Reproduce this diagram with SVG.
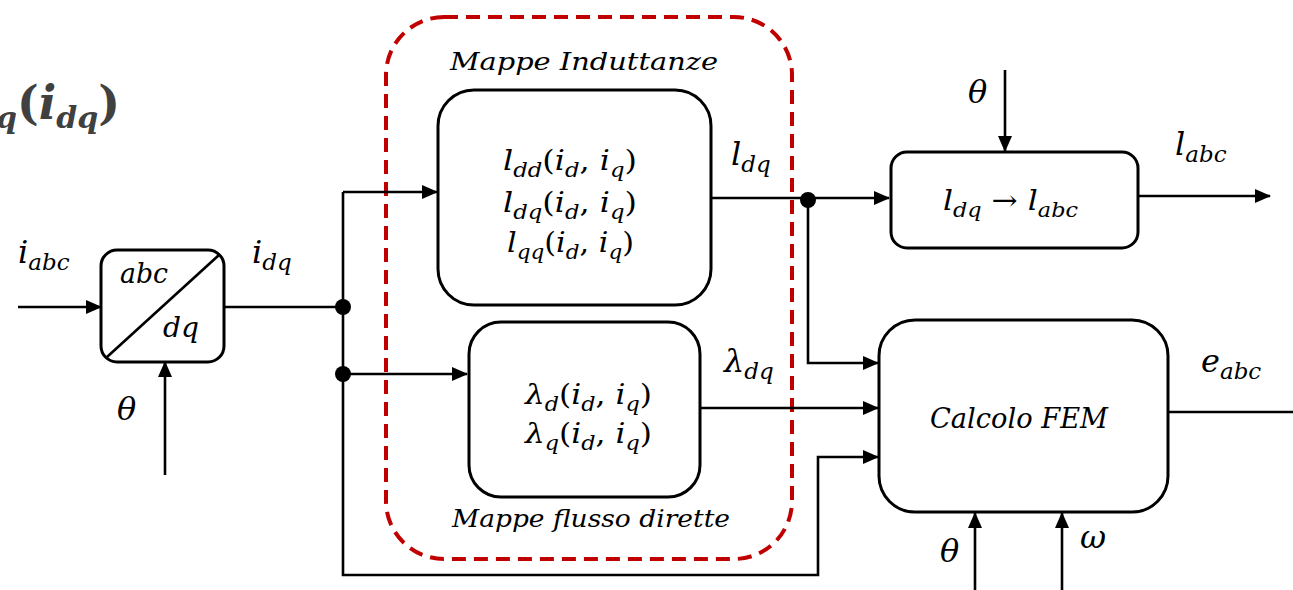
<svg xmlns="http://www.w3.org/2000/svg" width="1293" height="590" viewBox="0 0 1293 590">
<style>
.box{fill:#fff;stroke:#000;stroke-width:3}
.ln{fill:none;stroke:#000;stroke-width:2.6}
.m{font-family:"DejaVu Serif","Liberation Serif",serif;font-style:italic;font-size:28px;fill:#000}
.s{font-size:20px}
.lb{font-size:32px}
.lb .s{font-size:23px}
.t{font-family:"DejaVu Serif","Liberation Serif",serif;font-style:italic;font-size:24px;fill:#000}
.up{font-style:normal}
</style>
<defs>
<marker id="ar" markerUnits="userSpaceOnUse" markerWidth="16" markerHeight="14" refX="15" refY="7" orient="auto">
<path d="M0,0 L16,7 L0,14 z" fill="#000"/>
</marker>
</defs>
<rect width="1293" height="590" fill="#fff"/>

<g id="title">
<text x="-4" y="119" font-family="DejaVu Serif,serif" font-weight="bold" font-size="46" fill="#404040"><tspan font-style="italic" font-size="30" dy="9">q</tspan><tspan dy="-9">(</tspan><tspan font-style="italic">i</tspan><tspan font-style="italic" font-size="30" dy="9">dq</tspan><tspan dy="-9">)</tspan></text>
</g>

<g id="group-box">
<rect x="386" y="17" width="406" height="542" rx="58" ry="58" fill="none" stroke="#c00000" stroke-width="4" stroke-dasharray="14,8"/>
<text class="t" x="584" y="70" text-anchor="middle" textLength="268" lengthAdjust="spacingAndGlyphs">Mappe  Induttanze</text>
<text class="t" x="591" y="527" text-anchor="middle" textLength="278" lengthAdjust="spacingAndGlyphs">Mappe flusso dirette</text>
</g>

<g id="connectors">
<path class="ln" d="M18,307 H101" marker-end="url(#ar)"/>
<path class="ln" d="M165,475 V362" marker-end="url(#ar)"/>
<path class="ln" d="M224,307 H343"/>
<path class="ln" d="M343,192 V575 H818 V457 H878" marker-end="url(#ar)"/>
<path class="ln" d="M343,192 H437" marker-end="url(#ar)"/>
<path class="ln" d="M343,374 H467" marker-end="url(#ar)"/>
<path class="ln" d="M711,198 H889" marker-end="url(#ar)"/>
<path class="ln" d="M808,200 V363 H878" marker-end="url(#ar)"/>
<path class="ln" d="M700,408 H878" marker-end="url(#ar)"/>
<path class="ln" d="M1005,70 V151" marker-end="url(#ar)"/>
<path class="ln" d="M1138,196 H1270" marker-end="url(#ar)"/>
<path class="ln" d="M1168,412 H1293"/>
<path class="ln" d="M975,590 V513" marker-end="url(#ar)"/>
<path class="ln" d="M1062,590 V513" marker-end="url(#ar)"/>
<circle cx="343" cy="307" r="8" fill="#000"/>
<circle cx="343" cy="374" r="8" fill="#000"/>
<circle cx="808" cy="200" r="8" fill="#000"/>
<text class="m lb" x="18" y="263">i<tspan class="s" dy="7">abc</tspan></text>
<text class="m lb" x="252" y="263">i<tspan class="s" dy="7">dq</tspan></text>
<text class="m lb" x="117" y="420">θ</text>
<text class="m lb" x="731" y="165">l<tspan class="s" dy="7">dq</tspan></text>
<text class="m lb" x="724" y="372">λ<tspan class="s" dy="7">dq</tspan></text>
<text class="m lb" x="968" y="103">θ</text>
<text class="m lb" x="1175" y="155">l<tspan class="s" dy="7">abc</tspan></text>
<text class="m lb" x="1201" y="372">e<tspan class="s" dy="7">abc</tspan></text>
<text class="m lb" x="940" y="562">θ</text>
<text class="m lb" x="1080" y="548">ω</text>
</g>

<g id="abc-dq">
<rect class="box" x="101" y="250" width="123" height="112" rx="16" ry="16"/>
<path class="ln" d="M107,357 L219,255"/>
<text class="m" x="120" y="283" textLength="48" lengthAdjust="spacingAndGlyphs">abc</text>
<text class="m" x="163" y="337" textLength="36" lengthAdjust="spacingAndGlyphs">dq</text>
</g>

<g id="mappe-induttanze">
<rect class="box" x="438" y="90" width="273" height="215" rx="36" ry="36"/>
<text class="m" x="503" y="170" textLength="134" lengthAdjust="spacingAndGlyphs">l<tspan class="s" dy="7">dd</tspan><tspan class="up" dy="-7">(</tspan>i<tspan class="s" dy="7">d</tspan><tspan class="up" dy="-7">, </tspan>i<tspan class="s" dy="7">q</tspan><tspan class="up" dy="-7">)</tspan></text>
<text class="m" x="503" y="212" textLength="134" lengthAdjust="spacingAndGlyphs">l<tspan class="s" dy="7">dq</tspan><tspan class="up" dy="-7">(</tspan>i<tspan class="s" dy="7">d</tspan><tspan class="up" dy="-7">, </tspan>i<tspan class="s" dy="7">q</tspan><tspan class="up" dy="-7">)</tspan></text>
<text class="m" x="507" y="252" textLength="127" lengthAdjust="spacingAndGlyphs">l<tspan class="s" dy="7">qq</tspan><tspan class="up" dy="-7">(</tspan>i<tspan class="s" dy="7">d</tspan><tspan class="up" dy="-7">, </tspan>i<tspan class="s" dy="7">q</tspan><tspan class="up" dy="-7">)</tspan></text>
</g>

<g id="mappe-flusso">
<rect class="box" x="469" y="322" width="231" height="175" rx="32" ry="32"/>
<text class="m" x="525" y="404" textLength="127" lengthAdjust="spacingAndGlyphs">λ<tspan class="s" dy="7">d</tspan><tspan class="up" dy="-7">(</tspan>i<tspan class="s" dy="7">d</tspan><tspan class="up" dy="-7">, </tspan>i<tspan class="s" dy="7">q</tspan><tspan class="up" dy="-7">)</tspan></text>
<text class="m" x="525" y="443" textLength="127" lengthAdjust="spacingAndGlyphs">λ<tspan class="s" dy="7">q</tspan><tspan class="up" dy="-7">(</tspan>i<tspan class="s" dy="7">d</tspan><tspan class="up" dy="-7">, </tspan>i<tspan class="s" dy="7">q</tspan><tspan class="up" dy="-7">)</tspan></text>
</g>

<g id="dq-to-abc">
<rect class="box" x="891" y="152" width="247" height="96" rx="16" ry="16"/>
<text class="m" x="943" y="210" textLength="135" lengthAdjust="spacingAndGlyphs">l<tspan class="s" dy="7">dq</tspan><tspan class="up" dy="-7"> → </tspan>l<tspan class="s" dy="7">abc</tspan></text>
</g>

<g id="calcolo-fem">
<rect class="box" x="879" y="320" width="289" height="192" rx="36" ry="36"/>
<text class="m" x="930" y="428" textLength="178" lengthAdjust="spacingAndGlyphs">Calcolo FEM</text>
</g>
</svg>
